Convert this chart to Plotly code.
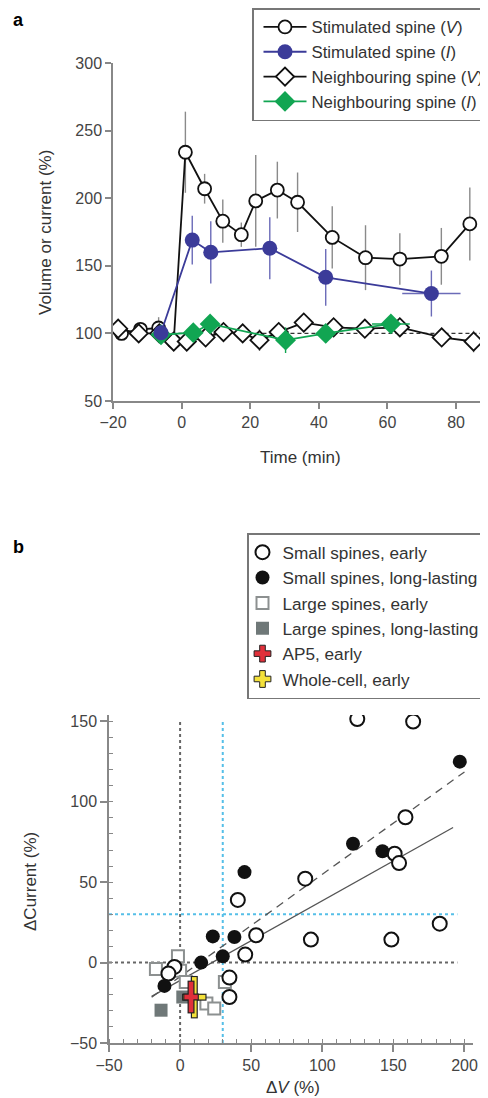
import plotly.graph_objects as go

# The page body has an 8px default margin, so the figure is drawn 8px smaller
# and every screen-pixel position is shifted by that offset.
OFF = 8
W, H = 488 - OFF, 1098 - OFF
FONT = "Liberation Sans, Arial, sans-serif"

# ---------------- Panel a data ----------------
STIM_V_T = [-17.5, -12, -6.7, -2.3, 1.1, 6.7, 12, 17.4, 21.6, 27.9, 33.8, 43.9, 53.6, 63.6, 75.7, 84]
STIM_V = [100, 103, 104, 94, 234, 207, 183, 173, 198, 206, 197, 171, 156, 155, 157, 181]
STIM_V_ERR = [0, 3, 8, 0, 30, 11, 16, 9, 34, 21, 22, 23, 24, 19, 21, 27]

STIM_I_T = [-6, 3.1, 8.5, 25.7, 42, 72.8]
STIM_I = [100.5, 169, 160, 163, 141.5, 129.5]
STIM_I_ERR = [0, 18, 23, 23, 21, 17]
STIM_I_TERR = [0, 0, 0, 0, 0, 8.5]

NEIGH_V_T = [-18.5, -12.5, -6.5, -2.3, 1.5, 7, 12.2, 17.8, 22.7, 28.3, 35.6, 44.3, 53.4, 63.6, 75.8, 85.1]
NEIGH_V = [103.5, 100, 100, 94, 94, 97, 101, 100, 95, 101, 108, 104.5, 103.5, 104.5, 97, 94]
NEIGH_V_ERR = [3, 2, 6, 5, 5, 7, 6, 5, 8, 7, 6, 5, 5, 5, 5, 8]

NEIGH_I_T = [-6, 3.4, 8.3, 30.3, 42, 61]
NEIGH_I = [99, 100.5, 107, 95, 100, 107]
NEIGH_I_ERR = [0, 4, 5, 9.5, 7, 4]
NEIGH_I_TERR = [0, 0, 0, 0, 0, 5.5]

BASELINE = 100
A_X_TICKS = [-20, 0, 20, 40, 60, 80]
A_Y_TICKS = [50, 100, 150, 200, 250, 300]

# ---------------- Panel b data ----------------
SMALL_EARLY_X = [124.6, 163.9, 158.5, 150.9, 154, 88, 40.6, 53.5, 92, 45.8, -4, -8.2, 34.7, 34.7, 148.6, 182.6]
SMALL_EARLY_Y = [151.5, 149.9, 90.4, 67.7, 61.9, 52.2, 39, 17, 14.3, 5, -2.7, -6.8, -9.3, -21.4, 14.3, 24.2]
SMALL_LONG_X = [196.7, 121.6, 142.3, 45.3, 23, 38.2, 14.8, 30, -11]
SMALL_LONG_Y = [125, 73.9, 69.3, 56.3, 16.3, 15.9, 0, 3.9, -14.5]
LARGE_EARLY_X = [-1.5, -17, 0, 4, 31.5, 18.5, 24]
LARGE_EARLY_Y = [4, -4, -5, -12, -12, -25.5, -28.5]
LARGE_LONG_X = [-13.4, 1.9]
LARGE_LONG_Y = [-29.6, -21.4]
AP5_X, AP5_Y, AP5_EX, AP5_EY = [7.7], [-21.4], [4.7], [9.5]
WC_X, WC_Y, WC_EX, WC_EY = [10], [-21.5], [7.8], [12.5]

FIT_ALL_X, FIT_ALL_Y = [-20, 192], [-21, 84]
FIT_LONG_X, FIT_LONG_Y = [-20, 200], [-21.5, 118.6]

THRESH_V, THRESH_I = 30, 30
B_TICKS = [-50, 0, 50, 100, 150, 200]

# ---------------- Layout helpers (screen pixel -> paper) ----------------
def px_x(p):
    return (p - OFF) / W

def px_y(p):
    return 1 - (p - OFF) / H

BLACK = "#111111"
BLUE = "#3b3b99"
GREEN = "#11a552"
GRAY = "#8a8a8a"
TICKC = "#444444"
TXT = "#333333"

fig = go.Figure()

# ----- Panel a traces (drawing order) -----
fig.add_trace(go.Scatter(
    x=STIM_V_T, y=STIM_V, mode="lines+markers", name="Stimulated spine (<i>V</i>)",
    line=dict(color=BLACK, width=1.8),
    marker=dict(symbol="circle", size=13, color="white", line=dict(color=BLACK, width=1.8)),
    error_y=dict(type="data", array=STIM_V_ERR, color=GRAY, thickness=1.4, width=0),
    xaxis="x", yaxis="y", legend="legend", legendrank=1))
fig.add_trace(go.Scatter(
    x=NEIGH_V_T, y=NEIGH_V, mode="lines+markers", name="Neighbouring spine (<i>V</i>)",
    line=dict(color=BLACK, width=1.8),
    marker=dict(symbol="diamond", size=14, color="white", line=dict(color=BLACK, width=1.8)),
    error_y=dict(type="data", array=NEIGH_V_ERR, color=GRAY, thickness=1.4, width=0),
    xaxis="x", yaxis="y", legend="legend", legendrank=3))
fig.add_trace(go.Scatter(
    x=NEIGH_I_T, y=NEIGH_I, mode="lines+markers", name="Neighbouring spine (<i>I</i>)",
    line=dict(color=GREEN, width=1.8),
    marker=dict(symbol="diamond", size=16, color=GREEN, line=dict(color=GREEN, width=0)),
    error_y=dict(type="data", array=NEIGH_I_ERR, color=GREEN, thickness=1.4, width=0),
    error_x=dict(type="data", array=NEIGH_I_TERR, color=GREEN, thickness=1.4, width=0),
    xaxis="x", yaxis="y", legend="legend", legendrank=4))
fig.add_trace(go.Scatter(
    x=STIM_I_T, y=STIM_I, mode="lines+markers", name="Stimulated spine (<i>I</i>)",
    line=dict(color=BLUE, width=1.8),
    marker=dict(symbol="circle", size=15, color=BLUE, line=dict(color=BLUE, width=0)),
    error_y=dict(type="data", array=STIM_I_ERR, color="#6b6bb8", thickness=1.4, width=0),
    error_x=dict(type="data", array=STIM_I_TERR, color="#6b6bb8", thickness=1.4, width=0),
    xaxis="x", yaxis="y", legend="legend", legendrank=2))

# ----- Panel b traces -----
fig.add_trace(go.Scatter(
    x=FIT_ALL_X, y=FIT_ALL_Y, mode="lines", line=dict(color="#555555", width=1.3),
    showlegend=False, xaxis="x2", yaxis="y2", hoverinfo="skip"))
fig.add_trace(go.Scatter(
    x=FIT_LONG_X, y=FIT_LONG_Y, mode="lines", line=dict(color="#555555", width=1.3, dash="8px,6px"),
    showlegend=False, xaxis="x2", yaxis="y2", hoverinfo="skip"))

fig.add_trace(go.Scatter(
    x=LARGE_EARLY_X, y=LARGE_EARLY_Y, mode="markers", name="Large spines, early",
    marker=dict(symbol="square", size=12, color="white", line=dict(color="#8c9090", width=2)),
    xaxis="x2", yaxis="y2", legend="legend2", legendrank=3))
fig.add_trace(go.Scatter(
    x=LARGE_LONG_X, y=LARGE_LONG_Y, mode="markers", name="Large spines, long-lasting",
    marker=dict(symbol="square", size=13, color="#6f7878", line=dict(color="#6f7878", width=0)),
    xaxis="x2", yaxis="y2", legend="legend2", legendrank=4))
fig.add_trace(go.Scatter(
    x=SMALL_EARLY_X, y=SMALL_EARLY_Y, mode="markers", name="Small spines, early",
    marker=dict(symbol="circle", size=14, color="white", line=dict(color=BLACK, width=2)),
    xaxis="x2", yaxis="y2", legend="legend2", legendrank=1))
fig.add_trace(go.Scatter(
    x=SMALL_LONG_X, y=SMALL_LONG_Y, mode="markers", name="Small spines, long-lasting",
    marker=dict(symbol="circle", size=14, color=BLACK, line=dict(color=BLACK, width=0)),
    xaxis="x2", yaxis="y2", legend="legend2", legendrank=2))

def cross(xv, yv, ex, ey, color):
    # black outline bars, then coloured bars on top
    fig.add_trace(go.Scatter(
        x=xv, y=yv, mode="markers", marker=dict(size=1, color="rgba(0,0,0,0)"),
        error_x=dict(type="data", array=[e + 0.8 for e in ex], color="#222222", thickness=7, width=0),
        error_y=dict(type="data", array=[e + 0.7 for e in ey], color="#222222", thickness=7, width=0),
        showlegend=False, xaxis="x2", yaxis="y2", hoverinfo="skip"))
    fig.add_trace(go.Scatter(
        x=xv, y=yv, mode="markers", marker=dict(size=1, color="rgba(0,0,0,0)"),
        error_x=dict(type="data", array=ex, color=color, thickness=4.6, width=0),
        error_y=dict(type="data", array=ey, color=color, thickness=4.6, width=0),
        showlegend=False, xaxis="x2", yaxis="y2", hoverinfo="skip"))

cross(WC_X, WC_Y, WC_EX, WC_EY, "#f4e13a")
cross(AP5_X, AP5_Y, AP5_EX, AP5_EY, "#e0303a")

# legend entries for the crosses
fig.add_trace(go.Scatter(
    x=[None], y=[None], mode="markers", name="AP5, early",
    marker=dict(symbol="cross", size=14, color="#e0303a", line=dict(color="#222222", width=1)),
    xaxis="x2", yaxis="y2", legend="legend2", legendrank=5))
fig.add_trace(go.Scatter(
    x=[None], y=[None], mode="markers", name="Whole-cell, early",
    marker=dict(symbol="cross", size=14, color="#f4e13a", line=dict(color="#222222", width=1)),
    xaxis="x2", yaxis="y2", legend="legend2", legendrank=6))

# ----- Shapes -----
shapes = [
    dict(type="line", xref="x", yref="y", x0=-5, x1=89.3, y0=BASELINE, y1=BASELINE,
         line=dict(color="#333333", width=1.1, dash="4px,3px"), layer="below"),
    dict(type="line", xref="x2", yref="y2", x0=0, x1=0, y0=-50, y1=150,
         line=dict(color="#666666", width=2, dash="dot"), layer="below"),
    dict(type="line", xref="x2", yref="y2", x0=-50, x1=195, y0=0, y1=0,
         line=dict(color="#666666", width=2, dash="dot"), layer="below"),
    dict(type="line", xref="x2", yref="y2", x0=THRESH_V, x1=THRESH_V, y0=-50, y1=150,
         line=dict(color="#55bfe8", width=2, dash="dot"), layer="below"),
    dict(type="line", xref="x2", yref="y2", x0=-50, x1=195, y0=THRESH_I, y1=THRESH_I,
         line=dict(color="#55bfe8", width=2, dash="dot"), layer="below"),
]

axis_common = dict(showgrid=False, zeroline=False, showline=True, linecolor="#888888", linewidth=1.5,
                   ticks="outside", tickcolor="#888888", tickwidth=1.5, automargin=False,
                   tickfont=dict(family=FONT, size=16, color=TICKC))

def label(text, x, y, size=17, angle=0, color=TXT):
    return dict(text=text, x=px_x(x), y=px_y(y), xref="paper", yref="paper", showarrow=False,
                xanchor="center", yanchor="middle", textangle=angle,
                font=dict(family=FONT, size=size, color=color))

annotations = [
    label("<b>a</b>", 18, 20, size=18, color="black"),
    label("<b>b</b>", 18, 547, size=18, color="black"),
    label("Volume or current (%)", 46, 233, angle=-90),
    label("Time (min)", 300, 457),
    label("ΔCurrent (%)", 30, 882, angle=-90),
    label("Δ<i>V</i> (%)", 293, 1087),
]

fig.update_layout(
    width=W, height=H, margin=dict(l=0, r=0, t=0, b=0, autoexpand=False),
    paper_bgcolor="white", plot_bgcolor="white",
    font=dict(family=FONT, size=16, color=TXT),
    xaxis=dict(domain=[px_x(113), 1.0], range=[-20, 89.3], tickvals=A_X_TICKS, ticklen=6,
               anchor="y", **axis_common),
    yaxis=dict(domain=[px_y(401), px_y(63)], range=[50, 300], tickvals=A_Y_TICKS, ticklen=6,
               anchor="x", **axis_common),
    xaxis2=dict(domain=[px_x(109), px_x(473)], range=[-50, 206], tickvals=B_TICKS, ticklen=7,
                anchor="y2",
                minor=dict(dtick=10, tick0=0, ticks="inside", ticklen=4, tickcolor="#888888", tickwidth=1.2),
                **axis_common),
    yaxis2=dict(domain=[px_y(1043), px_y(715)], range=[-50, 154], tickvals=B_TICKS[:-1], ticklen=7,
                anchor="x2",
                minor=dict(dtick=10, tick0=0, ticks="inside", ticklen=4, tickcolor="#888888", tickwidth=1.2),
                **axis_common),
    legend=dict(x=px_x(252), y=px_y(8), xanchor="left", yanchor="top",
                bordercolor="#777777", borderwidth=1.5, bgcolor="white",
                font=dict(family=FONT, size=16.8, color=TXT), itemwidth=43, indentation=5),
    legend2=dict(x=px_x(247), y=px_y(533), xanchor="left", yanchor="top",
                 bordercolor="#777777", borderwidth=1.5, bgcolor="white",
                 font=dict(family=FONT, size=17.2, color=TXT), itemwidth=30, indentation=-6),
    shapes=shapes, annotations=annotations, showlegend=True,
)

fig.write_html("out.html")
